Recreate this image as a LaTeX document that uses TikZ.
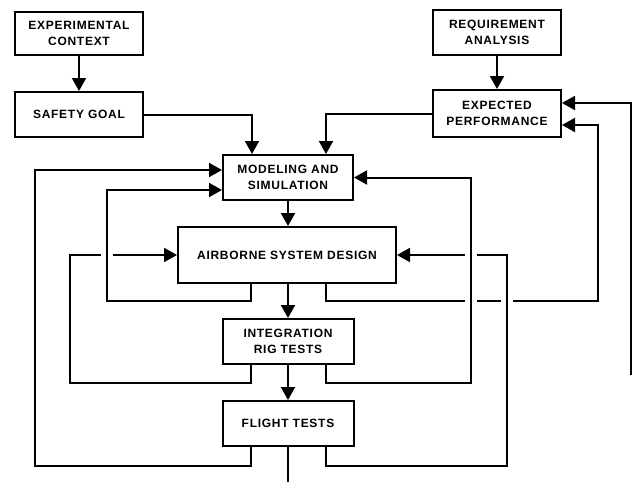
\documentclass[tikz,border=0pt]{standalone}
\usepackage{fontspec}
\setmainfont{Liberation Sans}
\newfontfamily\labfont[LetterSpace=6]{Liberation Sans Bold}
\usetikzlibrary{arrows.meta,calc}
\tikzset{
  box/.style={draw, line width=2pt, inner sep=0pt, align=center, font=\labfont\fontsize{12}{15.5}\selectfont},
  line/.style={line width=2pt},
  arr/.style={line width=2pt, -{Triangle[width=14pt,length=13pt]}},
  gap/.style={white, line width=2.6pt},
}
\begin{document}
\begin{tikzpicture}[x=1pt,y=-1pt]
\useasboundingbox[fill=white] (0,0) rectangle (633,482);
% boxes
\node[box, minimum width=128pt, minimum height=43pt] (EC) at (79,33.5) {EXPERIMENTAL\\CONTEXT};
\node[box, minimum width=128pt, minimum height=45pt] (SG) at (79,114.5) {SAFETY GOAL};
\node[box, minimum width=128pt, minimum height=45pt] (RA) at (497,32.5) {REQUIREMENT\\ANALYSIS};
\node[box, minimum width=128pt, minimum height=47pt] (EP) at (497,113.5) {EXPECTED\\PERFORMANCE};
\node[box, minimum width=130pt, minimum height=45pt] (MS) at (288,177.5) {MODELING AND\\SIMULATION};
\node[box, minimum width=218pt, minimum height=56pt] (ASD) at (287,255) {AIRBORNE SYSTEM DESIGN};
\node[box, minimum width=131pt, minimum height=45pt] (IRT) at (288,341.5) {INTEGRATION\\RIG TESTS};
\node[box, minimum width=131pt, minimum height=45pt] (FT) at (288,423.5) {FLIGHT TESTS};
% bend coordinates
\coordinate (c35) at (35,466);
\coordinate (c70) at (70,383);
\coordinate (c107) at (107,301);
\coordinate (c471) at (471,383);
\coordinate (c507) at (507,466);
\coordinate (c598) at (598,301);
\coordinate (c631) at (631,375);
\coordinate (bot) at (288,482);
% top connectors
\draw[arr] (EC.south) -- (SG.north);
\draw[arr] (RA.south) -- (EP.north);
\draw[arr] (SG.east) -| ([xshift=30pt]MS.north west);
\draw[arr] (EP.west) -| ([xshift=-28pt]MS.north east);
% main chain
\draw[arr] (MS.south) -- (MS.south |- ASD.north);
\draw[arr] (IRT.north |- ASD.south) -- (IRT.north);
\draw[arr] (IRT.south) -- (FT.north);
\draw[line] (FT.south) -- (bot);
% left feedback loops
\draw[arr] ([xshift=29pt]FT.south west) |- (c35) |- ([yshift=7.5pt]MS.west);
\draw[arr] ([xshift=29pt]IRT.south west) |- (c70) |- (ASD.west);
\draw[arr] ([xshift=74pt]ASD.south west) |- (c107) |- ([yshift=-12.5pt]MS.west);
% right feedback loops
\draw[arr] ([xshift=-71pt]ASD.south east) |- (c598) |- ([yshift=-11.5pt]EP.east);
\draw[arr] (c631) |- ([yshift=10.5pt]EP.east);
\draw[arr] ([xshift=-29pt]FT.south east) |- (c507) |- (ASD.east);
\draw[arr] ([xshift=-29pt]IRT.south east) |- (c471) |- (MS.east);
% crossing gaps (horizontal line interrupted, vertical continues)
\draw[gap] (101,255) -- (113,255);
\draw[gap] (465,255) -- (477,255);
\draw[gap] (465,301) -- (477,301);
\draw[gap] (501,301) -- (513,301);
\draw[line] (107,248) -- (107,262);
\draw[line] (471,248) -- (471,308);
\draw[line] (507,294) -- (507,308);
\end{tikzpicture}
\end{document}
